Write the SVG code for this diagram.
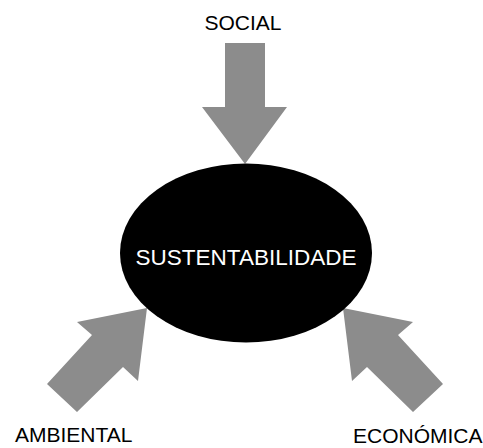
<svg xmlns="http://www.w3.org/2000/svg" width="483" height="448" viewBox="0 0 483 448">
<style>
.arrow{fill:#8c8c8c;stroke:none}
.lbl{font-family:"Liberation Sans",Arial,sans-serif;font-size:21px;fill:#000}
.center{font-family:"Liberation Sans",Arial,sans-serif;font-size:22.5px;fill:#fff}
</style>
<rect width="483" height="448" fill="#fff"/>
<g id="connectors">
<polygon class="arrow" points="225,43 265,43 265,107 287,107 245,164 202,107 225,107"/>
<polygon class="arrow" points="147,308 77,322 92,335 47,384 77,412 123,367 138,381"/>
<polygon class="arrow" points="343,308 413,322 398,335 443,384 413,412 367,367 352,381"/>
</g>
<g id="sustentabilidade">
<ellipse cx="246" cy="253" rx="126" ry="89.5" fill="#000"/>
<text class="center" x="246" y="265" text-anchor="middle">SUSTENTABILIDADE</text>
</g>
<g id="social">
<text class="lbl" x="243" y="30" text-anchor="middle">SOCIAL</text>
</g>
<g id="ambiental">
<text class="lbl" x="15" y="442">AMBIENTAL</text>
</g>
<g id="economica">
<text class="lbl" x="353" y="443">ECONÓMICA</text>
</g>
</svg>
